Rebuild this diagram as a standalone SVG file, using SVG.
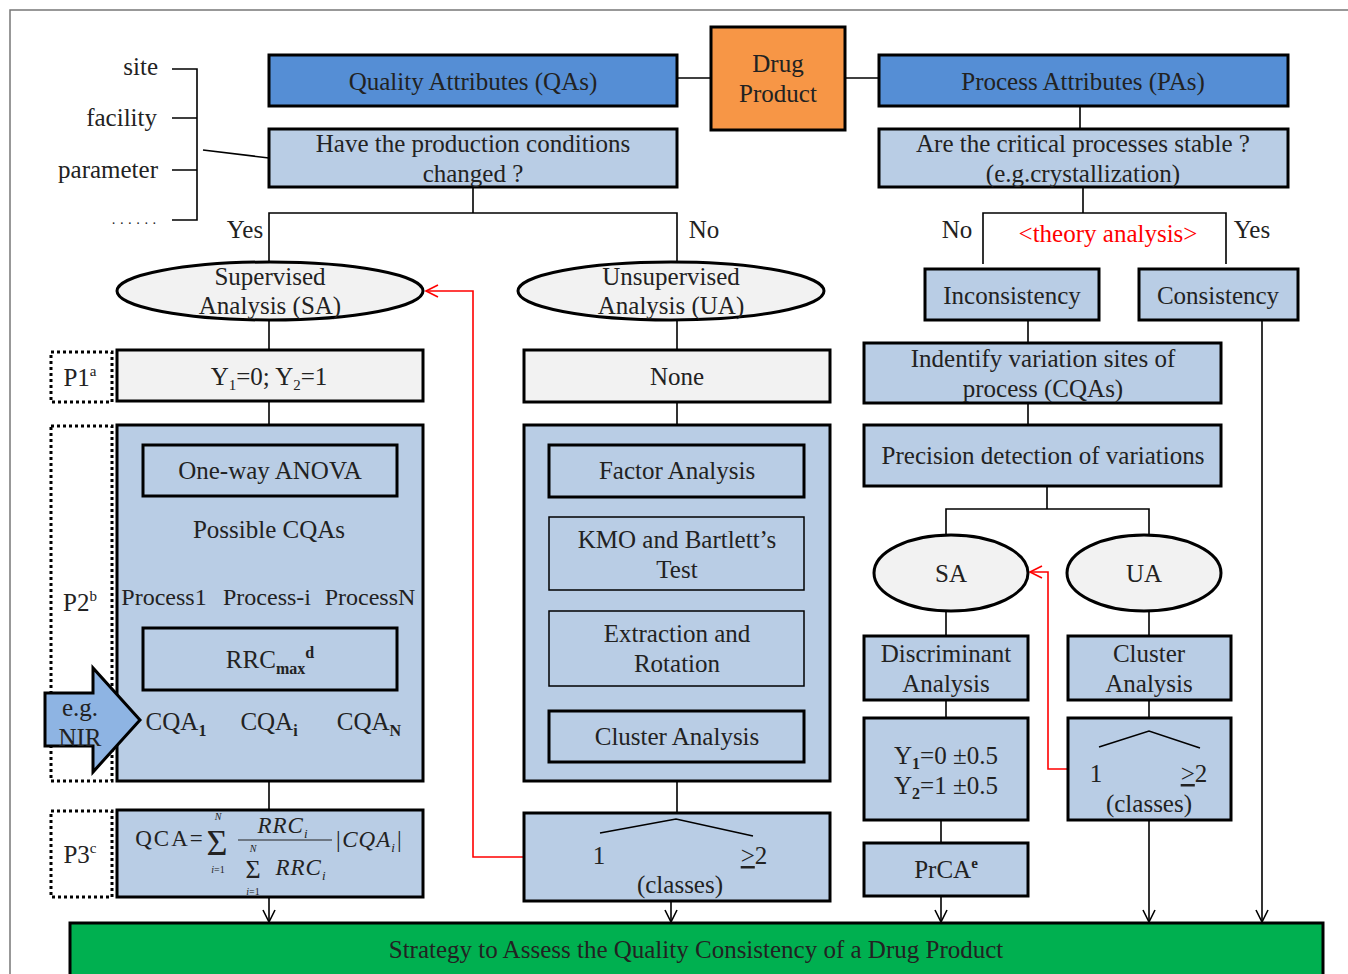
<svg xmlns="http://www.w3.org/2000/svg" width="1348" height="974" viewBox="0 0 1348 974" font-family="'Liberation Serif', 'DejaVu Serif', serif">
<defs>
<style>
text{font-family:'Liberation Serif','DejaVu Serif',serif;font-size:25px;fill:#222;text-anchor:middle}
.b{stroke:#000;stroke-width:3}
.t{stroke:#000;stroke-width:1.5}
.dark{fill:#558ED5}
.light{fill:#B9CDE5}
.gray{fill:#F2F2F2}
.dot{fill:none;stroke:#000;stroke-width:3;stroke-dasharray:3,3}
.ln{fill:none;stroke:#000;stroke-width:1.6}
.red{fill:none;stroke:#FF0000;stroke-width:1.6}
.it{font-style:italic}
.sub{font-size:15px}
</style>
<marker id="ar" markerUnits="userSpaceOnUse" markerWidth="16" markerHeight="16" refX="13" refY="7" orient="auto">
<path d="M1,1 L13,7 L1,13" fill="none" stroke="#000" stroke-width="1.6"/>
</marker>
<marker id="arr" markerUnits="userSpaceOnUse" markerWidth="16" markerHeight="16" refX="13" refY="7" orient="auto">
<path d="M1,1 L13,7 L1,13" fill="none" stroke="#FF0000" stroke-width="1.6"/>
</marker>
</defs>
<rect x="0" y="0" width="1348" height="974" fill="#fff"/>
<path d="M10,974 L10,10 L1348,10" fill="none" stroke="#777" stroke-width="1.5"/>

<g id="connectors">
<line class="ln" x1="677" y1="78" x2="711" y2="78"/>
<line class="ln" x1="845" y1="78" x2="879" y2="78"/>
<line class="ln" x1="1080" y1="106" x2="1080" y2="129"/>
<path class="ln" d="M172,69 H197 V220 H172 M172,118 H197 M172,170 H197"/>
<line class="ln" x1="203" y1="150" x2="269" y2="158"/>
<path class="ln" d="M473,187 V213 M269,262 V213 H677 V262"/>
<path class="ln" d="M1083,187 V213 M983,264 V213 H1226 V264"/>
<line class="ln" x1="269" y1="320" x2="269" y2="350"/>
<line class="ln" x1="269" y1="401" x2="269" y2="445"/>
<line class="ln" x1="269" y1="496" x2="269" y2="508"/>
<path class="ln" d="M269,550 V565 M178,582 V565 H371 V582"/>
<path class="ln" d="M175,612 V628 M269,612 V628 M372,612 V628"/>
<path class="ln" d="M173,690 V700 M269,690 V700 M370,690 V700"/>
<path class="ln" d="M174,742 V766 H367 V742 M269,742 V810"/>
<line class="ln" x1="269" y1="897" x2="269" y2="922" marker-end="url(#ar)"/>
<line class="ln" x1="677" y1="320" x2="677" y2="350"/>
<path class="ln" d="M677,402 V445 M677,497 V517 M677,590 V611 M677,686 V711 M677,762 V813"/>
<line class="ln" x1="671" y1="901" x2="671" y2="922" marker-end="url(#ar)"/>
<path class="red" d="M524,857 H473 V291 H426" marker-end="url(#arr)"/>
<path class="ln" d="M1028,320 V343 M1028,403 V425"/>
<path class="ln" d="M1047,486 V509 M946,535 V509 H1149 V535"/>
<path class="ln" d="M946,611 V636 M1149,611 V636 M946,700 V718 M1149,700 V718 M941,820 V843"/>
<path class="red" d="M1068,769 H1048 V572 H1030" marker-end="url(#arr)"/>
<line class="ln" x1="941" y1="896" x2="941" y2="922" marker-end="url(#ar)"/>
<line class="ln" x1="1149" y1="820" x2="1149" y2="922" marker-end="url(#ar)"/>
<line class="ln" x1="1262" y1="320" x2="1262" y2="922" marker-end="url(#ar)"/>
</g>

<g id="labels">
<text x="158" y="75" style="text-anchor:end">site</text>
<text x="157" y="126" style="text-anchor:end">facility</text>
<text x="158" y="178" style="text-anchor:end">parameter</text>
<text x="134" y="228" style="font-size:14px">· · · · · ·</text>
<text x="245" y="238">Yes</text>
<text x="704" y="238">No</text>
<text x="957" y="238">No</text>
<text x="1108" y="242" style="fill:#FF0000">&lt;theory analysis&gt;</text>
<text x="1252" y="238">Yes</text>
</g>

<g id="qa"><rect class="b dark" x="269" y="55" width="408" height="51"/><text x="473" y="90">Quality Attributes (QAs)</text></g>
<g id="drug"><rect class="b" fill="#F79646" x="711" y="27" width="134" height="103"/><text x="778" y="72">Drug</text><text x="778" y="102">Product</text></g>
<g id="pa"><rect class="b dark" x="879" y="55" width="409" height="51"/><text x="1083" y="90">Process Attributes (PAs)</text></g>
<g id="q1"><rect class="b light" x="269" y="129" width="408" height="58"/><text x="473" y="152">Have the production conditions</text><text x="473" y="182">changed ?</text></g>
<g id="q2"><rect class="b light" x="879" y="129" width="409" height="58"/><text x="1083" y="152">Are the critical processes stable ?</text><text x="1083" y="182">(e.g.crystallization)</text></g>

<g id="sa"><ellipse class="b gray" cx="270" cy="291" rx="153" ry="29"/><text x="270" y="285">Supervised</text><text x="270" y="314">Analysis (SA)</text></g>
<g id="ua"><ellipse class="b gray" cx="671" cy="291" rx="153" ry="29"/><text x="671" y="285">Unsupervised</text><text x="671" y="314">Analysis (UA)</text></g>

<g id="p1lab"><rect class="dot" x="51" y="352" width="61" height="50"/><text x="80" y="386">P1<tspan style="font-size:15px" dy="-10">a</tspan></text></g>
<g id="p2lab"><rect class="dot" x="51" y="426" width="61" height="355"/><text x="80" y="611">P2<tspan style="font-size:15px" dy="-10">b</tspan></text></g>
<g id="p3lab"><rect class="dot" x="51" y="811" width="61" height="86"/><text x="80" y="863">P3<tspan style="font-size:15px" dy="-10">c</tspan></text></g>

<g id="y12"><rect class="b gray" x="117" y="350" width="306" height="51"/><text x="269" y="385">Y<tspan class="sub" dy="5">1</tspan><tspan dy="-5">=0; Y</tspan><tspan class="sub" dy="5">2</tspan><tspan dy="-5">=1</tspan></text></g>
<g id="p2box"><rect class="b light" x="117" y="425" width="306" height="356"/></g>
<g id="anova"><rect class="b light" x="143" y="445" width="254" height="51"/><text x="270" y="479">One-way ANOVA</text></g>
<g id="possible"><text x="269" y="538">Possible CQAs</text></g>
<g id="processes"><text x="164" y="605" style="font-size:24px">Process1</text><text x="267" y="605" style="font-size:24px">Process-i</text><text x="370" y="605" style="font-size:24px">ProcessN</text></g>
<g id="rrc"><rect class="b light" x="143" y="628" width="254" height="62"/><text x="270" y="668">RRC<tspan style="font-size:16px;font-weight:bold" dy="6">max</tspan><tspan style="font-size:16px;font-weight:bold" dy="-16">d</tspan></text></g>
<g id="cqas"><text x="176" y="730">CQA<tspan style="font-size:16px;font-weight:bold" dy="6">1</tspan></text><text x="269" y="730">CQA<tspan style="font-size:16px;font-weight:bold" dy="6">i</tspan></text><text x="369" y="730">CQA<tspan style="font-size:16px;font-weight:bold" dy="6">N</tspan></text></g>
<g id="nir"><path class="b" fill="#8EB4E3" d="M45,693 H93 V668 L140,720 L93,772 V746 H45 Z"/><text x="80" y="716">e.g.</text><text x="80" y="746">NIR</text></g>

<g id="qca"><rect class="b light" x="117" y="810" width="306" height="87"/>
<text x="170" y="846" style="letter-spacing:2px;font-size:23px">QCA=</text>
<text x="217" y="855" style="font-size:36px">Σ</text>
<text x="218" y="820" class="it" style="font-size:10px">N</text>
<text x="218" y="873" style="font-size:10px"><tspan class="it">i</tspan>=1</text>
<text x="283" y="833" class="it" style="letter-spacing:1px;font-size:23px">RRC<tspan style="font-size:13px" dy="5">i</tspan></text>
<line x1="238" y1="840" x2="332" y2="840" stroke="#222" stroke-width="1.2"/>
<text x="253" y="878" style="font-size:26px">Σ</text>
<text x="253" y="852" class="it" style="font-size:10px">N</text>
<text x="253" y="895" style="font-size:10px"><tspan class="it">i</tspan>=1</text>
<text x="301" y="875" class="it" style="letter-spacing:1px;font-size:23px">RRC<tspan style="font-size:13px" dy="5">i</tspan></text>
<text x="369" y="847" class="it" style="letter-spacing:1px;font-size:23px">|CQA<tspan style="font-size:13px" dy="5">i</tspan><tspan dy="-5">|</tspan></text>
</g>

<g id="none"><rect class="b gray" x="524" y="350" width="306" height="52"/><text x="677" y="385">None</text></g>
<g id="uabox"><rect class="b light" x="524" y="425" width="306" height="356"/></g>
<g id="factor"><rect class="b light" x="549" y="445" width="255" height="52"/><text x="677" y="479">Factor Analysis</text></g>
<g id="kmo"><rect class="t light" x="549" y="517" width="255" height="73"/><text x="677" y="548">KMO and Bartlett’s</text><text x="677" y="578">Test</text></g>
<g id="extract"><rect class="t light" x="549" y="611" width="255" height="75"/><text x="677" y="642">Extraction and</text><text x="677" y="672">Rotation</text></g>
<g id="cluster1"><rect class="b light" x="549" y="711" width="255" height="51"/><text x="677" y="745">Cluster Analysis</text></g>
<g id="classes1"><rect class="b light" x="524" y="813" width="306" height="88"/><path class="ln" d="M600,833 L676,819 L753,836"/><text x="599" y="864">1</text><text x="754" y="864"><tspan text-decoration="underline">&gt;</tspan>2</text><text x="680" y="893">(classes)</text></g>

<g id="incons"><rect class="b light" x="925" y="269" width="174" height="51"/><text x="1012" y="304">Inconsistency</text></g>
<g id="cons"><rect class="b light" x="1139" y="269" width="159" height="51"/><text x="1218" y="304">Consistency</text></g>
<g id="identify"><rect class="b light" x="864" y="343" width="357" height="60"/><text x="1043" y="367">Indentify  variation sites of</text><text x="1043" y="397">process (CQAs)</text></g>
<g id="precision"><rect class="b light" x="864" y="425" width="357" height="61"/><text x="1043" y="464">Precision detection of variations</text></g>
<g id="sa2"><ellipse class="b gray" cx="951" cy="573" rx="77" ry="38"/><text x="951" y="582">SA</text></g>
<g id="ua2"><ellipse class="b gray" cx="1144" cy="573" rx="77" ry="38"/><text x="1144" y="582">UA</text></g>
<g id="discr"><rect class="b light" x="864" y="636" width="164" height="64"/><text x="946" y="662">Discriminant</text><text x="946" y="692">Analysis</text></g>
<g id="cluster2"><rect class="b light" x="1068" y="636" width="163" height="64"/><text x="1149" y="662">Cluster</text><text x="1149" y="692">Analysis</text></g>
<g id="ybox"><rect class="b light" x="864" y="718" width="164" height="102"/><text x="946" y="764">Y<tspan style="font-size:16px;font-weight:bold" dy="5">1</tspan><tspan dy="-5">=0 ±0.5</tspan></text><text x="946" y="794">Y<tspan style="font-size:16px;font-weight:bold" dy="5">2</tspan><tspan dy="-5">=1 ±0.5</tspan></text></g>
<g id="classes2"><rect class="b light" x="1068" y="718" width="163" height="102"/><path class="ln" d="M1099,747 L1149,731 L1200,748"/><text x="1096" y="782">1</text><text x="1194" y="782"><tspan text-decoration="underline">&gt;</tspan>2</text><text x="1149" y="812">(classes)</text></g>
<g id="prca"><rect class="b light" x="864" y="843" width="164" height="53"/><text x="946" y="878">PrCA<tspan style="font-size:15px;font-weight:bold" dy="-10">e</tspan></text></g>

<g id="strategy"><rect class="b" fill="#00B050" x="70" y="923" width="1253" height="60"/><text x="696" y="958">Strategy to Assess the Quality Consistency of a Drug Product</text></g>
</svg>
